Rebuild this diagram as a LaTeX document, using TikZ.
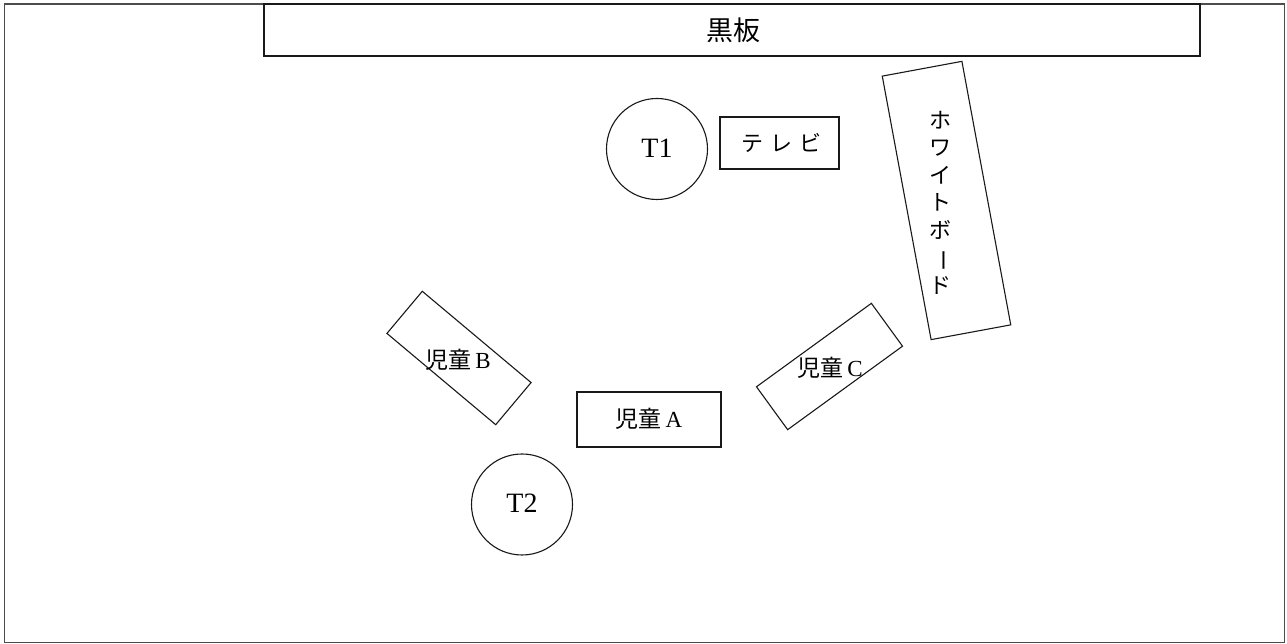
\documentclass[tikz,border=0pt]{standalone}
\usepackage{fontspec}
\setmainfont{Liberation Serif}
\newfontfamily\cjk{Noto Sans CJK JP}
\begin{document}
\begin{tikzpicture}[x=1pt,y=1pt,
  outline/.style={draw=black!90,line width=1.1pt},
  roomframe/.style={draw=black!70,line width=1.6pt},
  seat/.style={outline,circle,minimum size=101pt,inner sep=0pt},
  deskbox/.style={outline,rectangle,inner sep=0pt},
  jlabel/.style={font=\cjk\fontsize{23}{23}\selectfont,inner sep=0pt},
  tlabel/.style={font=\fontsize{28}{28}\selectfont,inner sep=0pt}
]
\useasboundingbox (0,0) rectangle (1287,644);
% room
\path[roomframe] (4.5,1.5) rectangle (1284.5,640);
% blackboard
\node[deskbox,minimum width=936pt,minimum height=52pt] (board) at (732,614) {};
\node[font=\cjk\fontsize{27}{27}\selectfont,inner sep=0pt] (boardlbl) at (733,613.5) {黒板};
% teacher 1 and TV
\node[seat] (T1) at (657,495) {};
\node[tlabel] (T1lbl) at (657,496) {T1};
\node[deskbox,minimum width=119pt,minimum height=52pt] (tv) at (779.5,501) {};
\node[jlabel,font=\cjk\fontsize{22}{22}\selectfont] (tvlbl) at (781,501) {テ\hspace{7pt}レ\hspace{7pt}ビ};
% whiteboard
\node[deskbox,minimum width=81pt,minimum height=268pt,rotate=10.5] (wb) at (946.5,443.5) {};
\node[font=\cjk\fontsize{22}{27.5}\selectfont,align=center,inner sep=0pt] (wblbl) at (940,441.5)
  {ホ\\ワ\\イ\\ト\\ボ\\\rotatebox[origin=c]{-90}{ー}\\ド};
% pupils
\node[deskbox,minimum width=144pt,minimum height=55pt] (A) at (649,224.5) {};
\node[jlabel] (Albl) at (649,225) {児童\hspace{4pt}{\rmfamily A}};
\node[deskbox,minimum width=142pt,minimum height=55pt,rotate=-40] (B) at (459,286) {};
\node[jlabel] (Blbl) at (458,284.5) {児童\hspace{4pt}{\rmfamily B}};
\node[deskbox,minimum width=142pt,minimum height=53pt,rotate=36] (C) at (829.5,277.5) {};
\node[jlabel] (Clbl) at (830,276) {児童\hspace{4pt}{\rmfamily C}};
% teacher 2
\node[seat] (T2) at (522,139.5) {};
\node[tlabel] (T2lbl) at (522,140.5) {T2};
\end{tikzpicture}
\end{document}
